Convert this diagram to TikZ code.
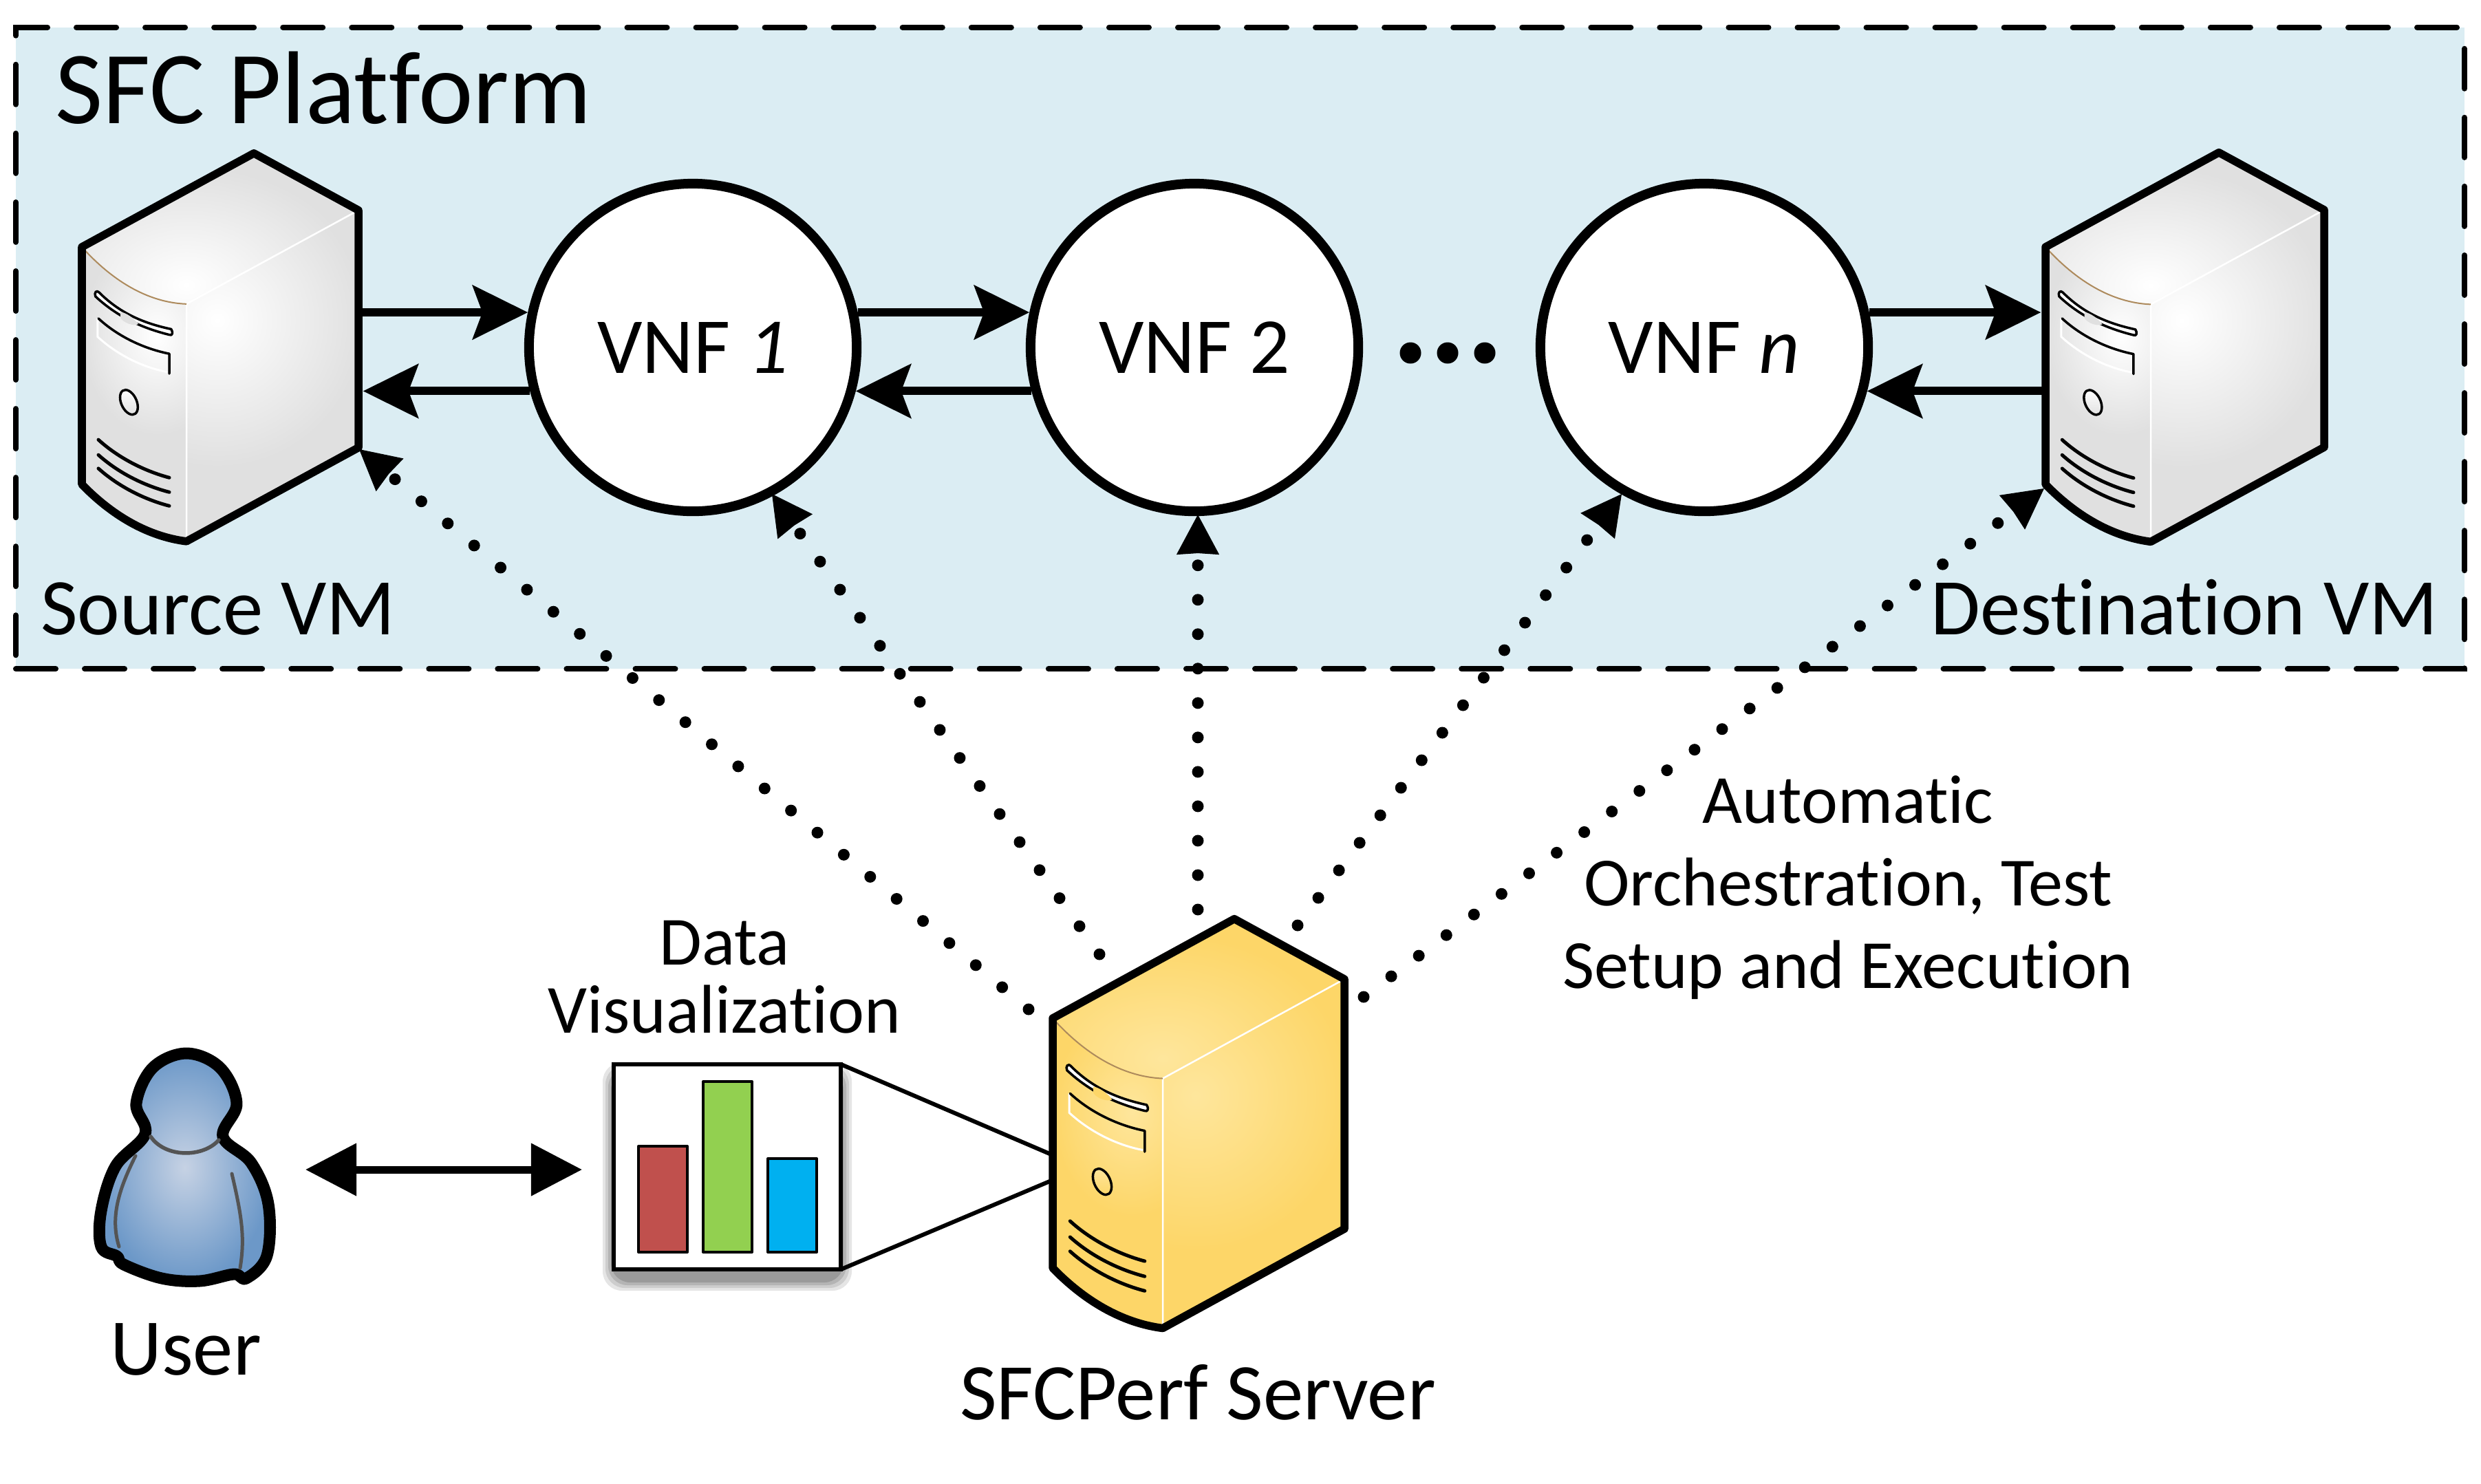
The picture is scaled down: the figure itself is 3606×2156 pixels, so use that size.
\documentclass[tikz,border=0pt]{standalone}
\usepackage{fontspec}
\setmainfont[Ligatures=NoCommon]{Carlito}
\usetikzlibrary{arrows.meta,calc}
\definecolor{platform}{HTML}{DBEDF3}
\definecolor{bluelight}{HTML}{C6D2E4}
\definecolor{bluedark}{HTML}{6C98C8}
\definecolor{greyd}{HTML}{E0E0E0}
\definecolor{greyl}{HTML}{FFFFFF}
\definecolor{yelld}{HTML}{FDD668}
\definecolor{yelll}{HTML}{FEE69C}
\definecolor{rimcol}{HTML}{AD8A5C}
\definecolor{barred}{HTML}{C0504D}
\definecolor{bargreen}{HTML}{92D050}
\definecolor{barblue}{HTML}{00B0F0}
\tikzset{
  x=0.01cm,y=-0.01cm,
  platformbox/.style={draw=black,fill=platform,line width=.08cm,line cap=round,dash pattern=on .58cm off .42cm},
  vnfnode/.style={circle,draw=black,fill=white,line width=.14cm,minimum size=4.76cm,inner sep=0pt,font=\fontsize{32.8}{40}\selectfont},
  flowline/.style={line width=.12cm,-{Stealth[length=.8cm,width=.78cm,inset=.14cm]}},
  ctrlline/.style={line width=.17cm,line cap=round,dash pattern=on 0pt off .5cm},
  bigl/.style={font=\fontsize{42.8}{50}\selectfont,anchor=base west,inner sep=0pt},
  midl/.style={font=\fontsize{33.2}{40}\selectfont,anchor=base,inner sep=0pt},
  smalll/.style={font=\fontsize{28.5}{34}\selectfont,anchor=base,inner sep=0pt},
  holder/.style={inner sep=0pt,draw=none,rectangle},
  barbox/.style={draw=black,line width=.04cm,line join=round},
  pointer/.style={-{Stealth[length=.58cm,width=.62cm,inset=.02cm]}},
  edge/.style={draw=black,line width=.115cm,line join=round},
  detail/.style={draw=black,line width=.035cm,line cap=round,line join=round},
  vent/.style={draw=black,line width=.05cm,line cap=round},
}
% #1 name #2 x0 #3 y0 #4 wL #5 wR #6 s #7 h #8 darker #9 lighter
\newcommand{\serverbox}[9]{%
 \pgfmathsetmacro{\xa}{#4*.01}\pgfmathsetmacro{\xb}{#4*#6*.01}
 \pgfmathsetmacro{\xh}{#7*.01}
 \coordinate (#1-lt) at (#2,#3);
 \coordinate (#1-in) at ({#2+#4},{#3+#4*#6});
 \coordinate (#1-rt) at ({#2+#4+#5},{#3+#4*#6-#5*#6});
 \coordinate (#1-ap) at ({#2+#5},{#3-#5*#6});
 \coordinate (#1-lb) at (#2,{#3+#7});
 \coordinate (#1-ib) at ({#2+#4},{#3+#4*#6+#7});
 \coordinate (#1-rb) at ({#2+#4+#5},{#3+#4*#6-#5*#6+#7});
 \node[holder,minimum width={(#4+#5)*.01cm},minimum height={(#7+#4*#6+#5*#6)*.01cm}]
   (#1) at ({#2+(#4+#5)/2},{#3-#5*#6+(#7+#4*#6+#5*#6)/2}) {};
 % top face
 \begin{scope}
  \clip (#1-lt) -- (#1-ap) -- (#1-rt) -- (#1-in)
   .. controls ($(#1-lt)!.62!(#1-in)+(0,{.085*#7})$) and ($(#1-lt)!.28!(#1-in)+(0,{.07*#7})$) .. (#1-lt) -- cycle;
  \fill[#8] ({#2-5},{#3-#5*#6-5}) rectangle ({#2+#4+#5+5},{#3+#4*#6+.1*#7});
  \path[inner color=#9,outer color=#8] ($(#1-in)+(0,{-.08*#7})$) circle [x radius={.62*(#4+#5)},y radius={.5*#7}];
 \end{scope}
 % right face
 \begin{scope}
  \clip (#1-in) -- (#1-rt) -- (#1-rb) -- (#1-ib) -- cycle;
  \fill[#8] ({#2+#4},{#3-#5*#6}) rectangle ({#2+#4+#5},{#3+#4*#6+#7});
  \path[inner color=#9,outer color=#8] ($(#1-in)!.18!(#1-rt)+(0,{.14*#7})$) circle [x radius={.85*#5},y radius={.62*#7}];
 \end{scope}
 % front face
 \begin{scope}
  \clip (#1-lt) .. controls ($(#1-lt)!.28!(#1-in)+(0,{.07*#7})$) and ($(#1-lt)!.62!(#1-in)+(0,{.085*#7})$) .. (#1-in)
   -- (#1-ib)
   .. controls ($(#1-lb)!.62!(#1-ib)+(0,{.07*#7})$) and ($(#1-lb)!.28!(#1-ib)+(0,{.06*#7})$) .. (#1-lb) -- cycle;
  \fill[#8] ({#2-5},#3) rectangle ({#2+#4+5},{#3+#4*#6+#7+40});
  \path[inner color=#9,outer color=#8] ($(#1-lt)!.72!(#1-in)+(0,{.2*#7})$) circle [x radius={.72*#4},y radius={.42*#7}];
 \end{scope}
 \draw[white,line width=.025cm] (#1-rt) -- (#1-in) -- (#1-ib);
 \draw[rimcol,line width=.02cm]
   (#1-lt) .. controls ($(#1-lt)!.28!(#1-in)+(0,{.07*#7})$) and ($(#1-lt)!.62!(#1-in)+(0,{.085*#7})$) .. (#1-in);
 \begin{scope}[shift={(#2,#3)},x={(\xa cm,-\xb cm)},y={(0cm,-\xh cm)}]
  \draw[detail,fill=white] (.166,.152) .. controls (.38,.195) and (.62,.175) .. (.854,.141)
     .. controls (.875,.15) and (.865,.168) .. (.836,.169)
     .. controls (.6,.20) and (.35,.215) .. (.13,.177)
     .. controls (.115,.165) and (.14,.145) .. (.166,.152) -- cycle;
  \fill[#8] (.37,.185) .. controls (.42,.175) and (.50,.18) .. (.54,.195) .. controls (.50,.215) and (.40,.225) .. (.37,.21) -- cycle;
  \draw[white,line width=.03cm] (.15,.265) -- (.15,.342) .. controls (.35,.375) and (.6,.365) .. (.82,.33);
  \draw[detail] (.158,.263) .. controls (.35,.295) and (.6,.285) .. (.836,.249) -- (.836,.333);
  \draw[detail,top color=#9,bottom color=#8] (.45,.546) circle [x radius=.085,y radius=.048];
  \draw[vent] (.158,.774) .. controls (.35,.805) and (.6,.80) .. (.836,.771);
  \draw[vent] (.158,.838) .. controls (.35,.868) and (.6,.862) .. (.836,.832);
  \draw[vent] (.158,.895) .. controls (.35,.925) and (.6,.92) .. (.836,.89);
 \end{scope}
 \draw[edge]
   (#1-lt) -- (#1-ap) -- (#1-rt) -- (#1-rb) -- (#1-ib)
   .. controls ($(#1-lb)!.62!(#1-ib)+(0,{.07*#7})$) and ($(#1-lb)!.28!(#1-ib)+(0,{.06*#7})$) .. (#1-lb) -- cycle;
}
\begin{document}
\begin{tikzpicture}
\useasboundingbox (0,0) rectangle (3606,2156);
\fill[white] (0,0) rectangle (3606,2156);
\node[platformbox,rectangle,inner sep=0pt,outer sep=0pt,minimum width=35.57cm,minimum height=9.32cm] (platform) at (1802.5,506) {};
\node[bigl] (title) at (80,179) {SFC Platform};

\serverbox{srcvm}{119}{359}{152}{250}{.545}{345}{greyd}{greyl}
\serverbox{dstvm}{2973}{359}{153}{252}{.545}{345}{greyd}{greyl}
\serverbox{perf}{1530}{1480}{160}{264}{.547}{363}{yelld}{yelll}

\node[vnfnode] (vnf1) at (1007,505) {VNF \textit{1}};
\node[vnfnode] (vnf2) at (1736,505) {VNF 2};
\node[vnfnode] (vnfn) at (2477,505) {VNF \textit{n}};
\foreach \i/\xx in {1/2050,2/2104,3/2158}
  \fill (\xx,513) circle (15.5);

\coordinate (src-out) at ($(vnf1.168 -| srcvm.east)+(5,0)$);
\coordinate (src-in) at ($(vnf1.195.7 -| srcvm.east)+(6,0)$);
\coordinate (dst-out) at ($(vnfn.12 -| dstvm.west)+(-6,0)$);
\coordinate (dst-in) at ($(vnfn.-15.7 -| dstvm.west)+(-3,0)$);
\draw[flowline] (src-out) -- (vnf1.168);
\draw[flowline] (vnf1.195.7) -- (src-in);
\draw[flowline] (vnf1.12) -- (vnf2.168);
\draw[flowline] (vnf2.195.7) -- (vnf1.-15.7);
\draw[flowline] (vnfn.12) -- (dst-out);
\draw[flowline] (dst-in) -- (vnfn.-15.7);

\coordinate (perf-a) at (1495,1467);
\coordinate (perf-b) at (1598,1387);
\coordinate (perf-c) at (1741,1322);
\coordinate (perf-d) at (1886,1345);
\coordinate (perf-e) at (1982,1449);
\coordinate (tip-a) at (522,653);
\coordinate (tip-b) at (1122,718);
\coordinate (tip-c) at (1741,748);
\coordinate (tip-d) at (2357,718);
\coordinate (tip-e) at (2971,710);
\foreach \s in {a,b,c,d,e}{
  \draw[ctrlline] (perf-\s) -- ($(tip-\s)!.55cm!(perf-\s)$);
  \draw[line width=.01cm,pointer] ($(tip-\s)!.55cm!(perf-\s)$) -- (tip-\s);
}

\node[midl] (srclabel) at (317,922) {Source VM};
\node[midl] (dstlabel) at (3175,922) {Destination VM};

% user
\draw[draw=black,line width=.17cm,line join=round,inner color=bluelight,outer color=bluedark]
  plot[smooth cycle,tension=.6] coordinates {
  (271,1531)(222,1552)(198,1604)(211,1648)(168,1695)(147,1760)(147,1812)(170,1826)(180,1838)(235,1858)(290,1862)(340,1852)(358,1858)(388,1825)(390,1750)(365,1690)(324,1652)(344,1604)(320,1552)};
\draw[black!67,line width=.055cm,line cap=round] (219,1652) .. controls (240,1683) and (295,1683) .. (318,1657);
\draw[black!67,line width=.05cm,line cap=round] (197,1680) .. controls (172,1730) and (160,1770) .. (173,1812);
\draw[black!67,line width=.05cm,line cap=round] (337,1706) .. controls (352,1770) and (356,1800) .. (349,1843);
\node[midl] (userlabel) at (270,1998) {User};
\node[smalll] (datalabel) at (1053,1402) {Data};
\node[smalll] (datalabel2) at (1053,1501) {Visualization};

% chart
\foreach \o/\g in {.10/16,.10/12,.12/8,.14/4}
  \fill[black,opacity=\o,rounded corners=8] (892-\g,1560-\g) rectangle (1222+\g,1860+\g);
\node[rectangle,draw=black,fill=white,line width=.06cm,inner sep=0pt,outer sep=0pt,minimum width=3.3cm,minimum height=2.98cm] (chart) at (1057,1696) {};
\draw[barbox,fill=barred] (928,1666) rectangle (999,1820);
\draw[barbox,fill=bargreen] (1022,1572) rectangle (1093,1820);
\draw[barbox,fill=barblue] (1116,1684) rectangle (1187,1820);
\coordinate (perf-view-a) at (1528,1678);
\coordinate (perf-view-b) at (1528,1716);
\draw[line width=.06cm] (chart.north east) -- (perf-view-a);
\draw[line width=.06cm] (chart.south east) -- (perf-view-b);

\coordinate (user-end) at (444,1700);
\coordinate (chart-end) at (846,1700);
\draw[line width=.11cm,{Triangle[length=.74cm,width=.74cm]}-{Triangle[length=.74cm,width=.74cm]}] (user-end) -- (chart-end);

\node[smalll] (auto1) at (2686,1196) {Automatic};
\node[smalll] (auto2) at (2686,1316) {Orchestration, Test};
\node[smalll] (auto3) at (2686,1436) {Setup and Execution};
\node[midl] (perflabel) at (1741,2063) {SFCPerf Server};
\end{tikzpicture}
\end{document}
